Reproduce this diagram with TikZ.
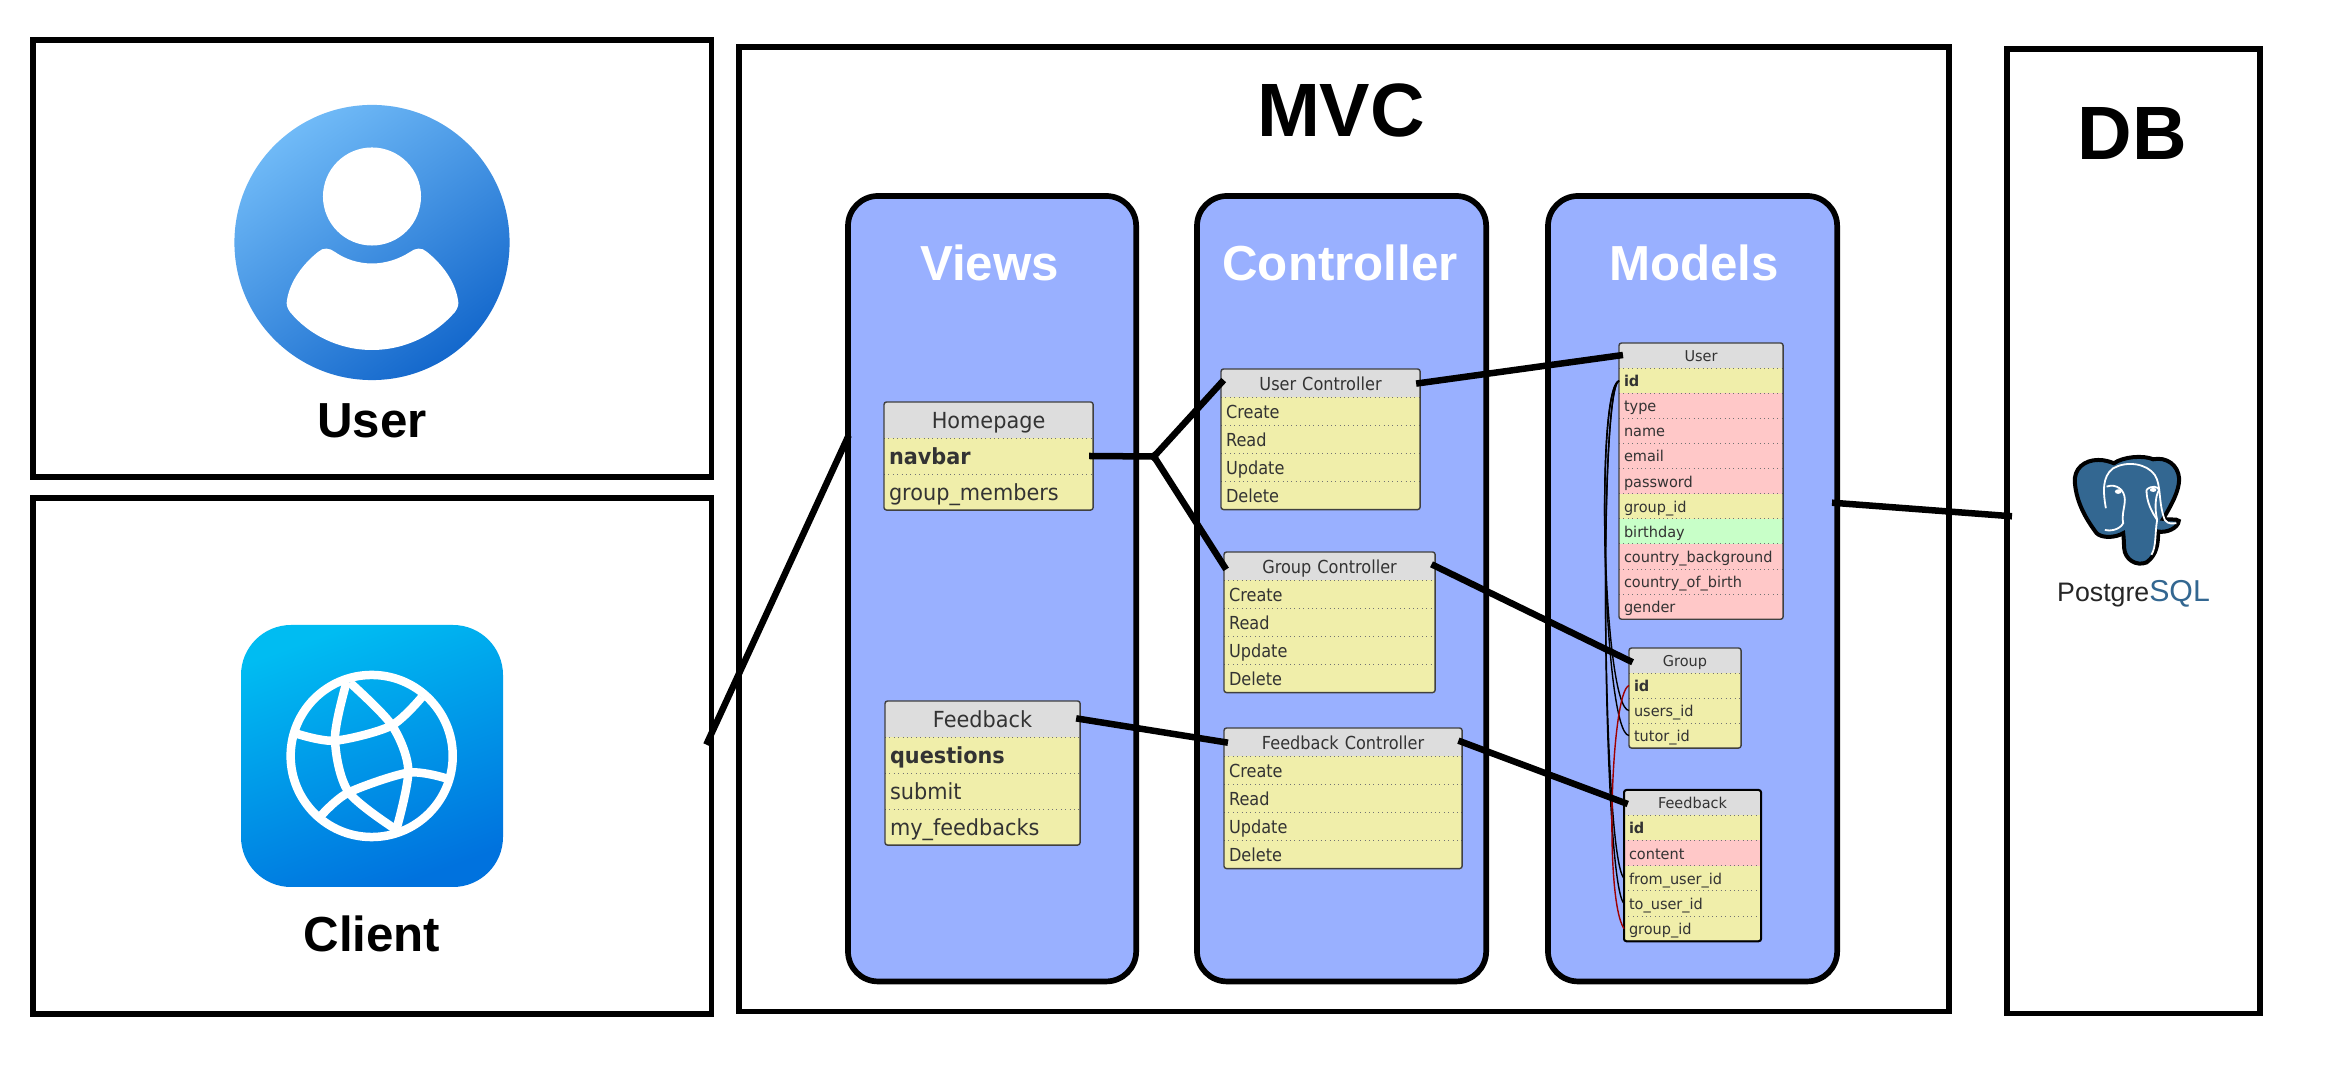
\documentclass[tikz,border=0pt]{standalone}
\usepackage{fontspec}
\setmainfont{Liberation Sans}
\newfontfamily\viewfont[FakeStretch=0.94]{DejaVu Sans}
\newfontfamily\ctrlfont[FakeStretch=0.9]{DejaVu Sans}
\newfontfamily\modelfont[FakeStretch=0.97]{DejaVu Sans}
\usetikzlibrary{positioning,calc}
\definecolor{panelblue}{HTML}{99B0FF}
\definecolor{headcell}{HTML}{DDDDDD}
\definecolor{yellowcell}{HTML}{F0EEAA}
\definecolor{pinkcell}{HTML}{FFC8C8}
\definecolor{greencell}{HTML}{C8FFC8}
\definecolor{pgblue}{HTML}{336791}
\definecolor{reldark}{HTML}{A00000}
\definecolor{usertop}{HTML}{70BAF7}
\definecolor{userbot}{HTML}{1468CC}
\definecolor{clienttop}{HTML}{00BCF2}
\definecolor{clientbot}{HTML}{0072DE}
\tikzset{
frame/.style = {draw, line width=0.057cm, anchor=north west, outer sep=0pt},
panel/.style = {frame, fill=panelblue, rounded corners=0.3cm},
bigtitle/.style = {font=\fontsize{21.5}{24}\selectfont\bfseries},
subtitle/.style = {font=\fontsize{14}{16}\selectfont\bfseries},
paneltitle/.style = {subtitle, text=white},
tabrow/.style = {inner ysep=0pt, outer sep=0pt, inner xsep=0.05cm, text=black!80},
tabsep/.style = {densely dotted, black!55, line width=0.25pt},
tabframe/.style = {draw=black!75, line width=0.4pt, rounded corners=0.025cm},
link/.style = {line width=0.065cm, shorten <=-0.04cm, shorten >=-0.04cm},
relation/.style = {black, line width=0.4pt},
globe/.style = {white, line width=0.085cm}
}
\newcommand{\rowstrut}{\rule[-0.3em]{0pt}{1.4em}}
% name, position, width, row height, font, title, rows
\newcommand{\dbtable}[7]{
  \pgfmathsetlengthmacro\rowtextw{#3-0.1cm}
  \node [tabrow, fill=headcell, anchor=north west, minimum height=#4, text width=\rowtextw, align=center, font=#5, name=#1-0, alias=#1] at #2 {\rowstrut #6};
  \foreach \rowtext/\rowcol [count=\rowno from 1, remember=\rowno as \prevrow (initially 0)] in {#7} {
    \node [tabrow, fill=\rowcol, below=0pt of #1-\prevrow, minimum height=#4, text width=\rowtextw, align=left, font=#5] (#1-\rowno) {\rowstrut\rowtext};
    \draw [tabsep] (#1-\rowno.north west) -- (#1-\rowno.north east);
    \xdef\lastrow{\rowno}
  }
  \draw [tabframe] (#1-0.north west) rectangle (#1-\lastrow.south east);
}

\begin{document}
\begin{tikzpicture}[x=0.01cm, y=-0.01cm]
        \useasboundingbox [fill=white] (0,0) rectangle (2332,1080);

        % outer boxes
        \node [frame, minimum width=6.78cm, minimum height=4.37cm] (userbox) at (33,40) {};
        \node [frame, minimum width=6.78cm, minimum height=5.16cm] (clientbox) at (33,498) {};
        \node [frame, minimum width=12.09cm, minimum height=9.64cm] (mvcbox) at (739,47) {};
        \node [frame, minimum width=2.53cm, minimum height=9.64cm] (dbbox) at (2007,49) {};
        \node [bigtitle] (mvctxt) at (1341,110) {MVC};
        \node [bigtitle] (dbtxt) at (2132,134) {DB};

        % user icon
        \shade [top color=usertop, bottom color=userbot, shading angle=35] (372,242.5) circle (1.375cm);
        \fill [white] (372,196.5) circle (0.49cm);
        \fill [white] (335,252) .. controls (345,259) and (358,263.5) .. (372,263.5) .. controls (386,263.5) and (399,259) .. (410,252) .. controls (415,248) and (422,247) .. (427,252) .. controls (442,264) and (455,281) .. (458,300) .. controls (459,304) and (458,308) .. (455,312) .. controls (435,335) and (405,350) .. (372,350) .. controls (339,350) and (309,335) .. (290,312) .. controls (287,308) and (286,304) .. (287,300) .. controls (290,281) and (303,264) .. (318,252) .. controls (323,247) and (330,248) .. (335,252) -- cycle;
        \node [subtitle] (usertxt) at (372,421) {User};

        % client icon
        \shade [top color=clienttop, bottom color=clientbot, shading angle=20, rounded corners=0.5cm] (241,625) rectangle (503,887);
        \draw [globe] (371.7,756) circle (0.81cm);
        \draw [globe] plot [smooth] coordinates {(346.7,681.7) (335,738.3) (348.3,791.7) (396.7,830)};
        \draw [globe] plot [smooth] coordinates {(350,682.7) (391.7,725) (408.3,770) (396.7,828.3)};
        \draw [globe] plot [smooth] coordinates {(297.7,734) (335,740.7) (390.7,726) (421.7,697.3)};
        \draw [globe] plot [smooth] coordinates {(321.7,815) (348.3,792.7) (408.3,772.7) (446,778.3)};
        \node [subtitle] (clienttxt) at (372,934) {Client};

        % mvc panels
        \node [panel, minimum width=2.88cm, minimum height=7.85cm] (views) at (848,196) {};
        \node [panel, minimum width=2.89cm, minimum height=7.85cm] (controller) at (1197,196) {};
        \node [panel, minimum width=2.89cm, minimum height=7.85cm] (models) at (1548,196) {};
        \node [paneltitle] (viewstxt) at (989.5,263) {Views};
        \node [paneltitle] (controllertxt) at (1340,263) {Controller};
        \node [paneltitle] (modelstxt) at (1694,263) {Models};

        % views
        \dbtable{home}{(884,402)}{2.09cm}{0.36cm}{\viewfont\fontsize{6.3}{7.5}\selectfont}{Homepage}{\textbf{navbar}/yellowcell, group\_members/yellowcell}
        \dbtable{fbview}{(885,701)}{1.95cm}{0.36cm}{\viewfont\fontsize{6.3}{7.5}\selectfont}{Feedback}{\textbf{questions}/yellowcell, submit/yellowcell, my\_feedbacks/yellowcell}

        % controllers
        \dbtable{uc}{(1221,369)}{1.99cm}{0.281cm}{\ctrlfont\fontsize{5.1}{6.2}\selectfont}{User Controller}{Create/yellowcell, Read/yellowcell, Update/yellowcell, Delete/yellowcell}
        \dbtable{gc}{(1224,552)}{2.11cm}{0.281cm}{\ctrlfont\fontsize{5.1}{6.2}\selectfont}{Group Controller}{Create/yellowcell, Read/yellowcell, Update/yellowcell, Delete/yellowcell}
        \dbtable{fc}{(1224,728)}{2.38cm}{0.281cm}{\ctrlfont\fontsize{5.1}{6.2}\selectfont}{Feedback Controller}{Create/yellowcell, Read/yellowcell, Update/yellowcell, Delete/yellowcell}

        % models
        \dbtable{user}{(1619,343)}{1.64cm}{0.251cm}{\modelfont\fontsize{4.25}{5.4}\selectfont}{User}{\textbf{id}/yellowcell, type/pinkcell, name/pinkcell, email/pinkcell, password/pinkcell, group\_id/yellowcell, birthday/greencell, country\_background/pinkcell, country\_of\_birth/pinkcell, gender/pinkcell}
        \dbtable{group}{(1629,648)}{1.12cm}{0.25cm}{\modelfont\fontsize{4.25}{5.4}\selectfont}{Group}{\textbf{id}/yellowcell, users\_id/yellowcell, tutor\_id/yellowcell}
        \dbtable{fb}{(1624,790)}{1.37cm}{0.252cm}{\modelfont\fontsize{4.25}{5.4}\selectfont}{Feedback}{\textbf{id}/yellowcell, content/pinkcell, from\_user\_id/yellowcell, to\_user\_id/yellowcell, group\_id/yellowcell}
        \draw [black, line width=0.02cm, rounded corners=0.025cm] (fb-0.north west) rectangle (fb-5.south east);

        \foreach \target in {group-2,group-3}
          \draw [relation] (user-1.west) .. controls +(-24,8) and +(-26,-2) .. (\target.west);
        \foreach \target in {fb-3,fb-4}
          \draw [relation] (user-1.west) .. controls +(-21,8) and +(-21,-20) .. (\target.west);
        \draw [relation, reldark] (group-1.west) .. controls +(-18,6) and +(-20,-30) .. (fb-5.west);

        % links
        \coordinate (fork) at (1154,456.5);
        \coordinate (clientport) at (708,741);
        \coordinate (viewsport) at (847,439);
        \coordinate (modelsport) at (1836,503);
        \coordinate (dbport) at (2008,516);
        \draw [link] (clientport) -- (viewsport);
        \draw [link] (home-1.east) -- (fork);
        \draw [link] (fork) -- (uc.west);
        \draw [link] (fork) -- (gc.west);
        \draw [link] (fbview.east) -- (fc.west);
        \draw [link] (uc.east) -- (user.west);
        \draw [link] (gc.east) -- (group.west);
        \draw [link] (fc.east) -- (fb.west);
        \draw [link] (modelsport) -- (dbport);

        % postgres logo
        \begin{scope}[shift={(2030,440)}, x=0.00333cm, y=-0.00333cm]
          \path [fill=pgblue, draw=black, line width=0.04cm] (135,130) .. controls (130,85) and (165,60) .. (205,60) .. controls (225,60) and (240,65) .. (252,70) .. controls (280,50) and (340,45) .. (370,58) .. controls (410,50) and (445,75) .. (448,115) .. controls (450,150) and (425,195) .. (400,237) .. controls (420,242) and (440,235) .. (447,243) .. controls (445,265) and (410,280) .. (385,275) .. controls (385,310) and (382,345) .. (350,368) .. controls (320,380) and (285,360) .. (283,325) .. controls (282,310) and (282,295) .. (280,280) .. controls (255,295) and (215,295) .. (200,280) .. controls (170,240) and (140,190) .. (135,130) -- cycle;
          \draw [white, line width=0.018cm] (228,205) .. controls (220,160) and (215,110) .. (250,85) .. controls (290,62) and (350,70) .. (375,105) .. controls (395,135) and (385,190) .. (405,240) .. controls (415,255) and (430,250) .. (440,250);
          \draw [white, line width=0.018cm] (230,140) .. controls (260,130) and (285,150) .. (285,180) .. controls (285,200) and (275,225) .. (280,250) .. controls (270,270) and (240,275) .. (225,270);
          \draw [white, line width=0.018cm] (350,150) .. controls (365,135) and (385,140) .. (388,150) .. controls (375,170) and (375,210) .. (382,240);
          \draw [white, line width=0.018cm] (350,150) .. controls (350,185) and (365,215) .. (382,240) .. controls (375,280) and (380,320) .. (365,345);
          \fill [white] (265,155) ellipse (10 and 7);
          \fill [white] (370,150) ellipse (10 and 6);
        \end{scope}
        \node (pgtxt) at (2133.5,594) {\fontsize{7.6}{9}\selectfont\color{black!85}Postgre\fontsize{8.6}{9}\selectfont\color{pgblue}SQL};
\end{tikzpicture}
\end{document}
